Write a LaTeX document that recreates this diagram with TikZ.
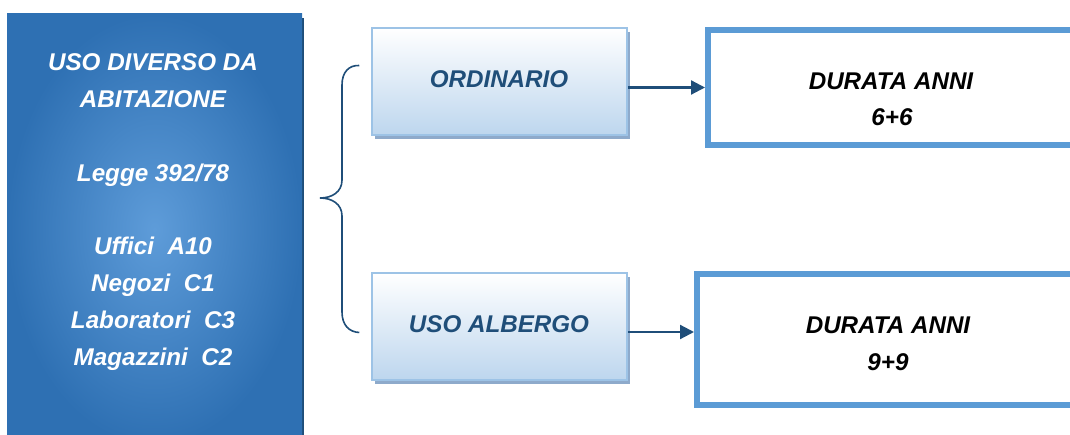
\documentclass[tikz,border=0pt]{standalone}
\usepackage{fontspec}
\setmainfont{Liberation Sans}
\usetikzlibrary{calc,arrows.meta,shadings}
\definecolor{deepblue}{HTML}{1F4E79}
\definecolor{midblue}{HTML}{2E70B3}
\definecolor{glowblue}{HTML}{5E9CD9}
\definecolor{paleblue}{HTML}{BDD6EE}
\definecolor{edgeblue}{HTML}{9DC3E6}
\definecolor{shadowblue}{HTML}{8EAACB}
\definecolor{frameblue}{HTML}{5B9BD5}
\tikzset{
  lbl/.style={font=\fontsize{24.2}{36.75}\selectfont\bfseries\itshape, inner sep=0pt, anchor=base},
  mainbox/.style={rectangle, inner sep=0pt, inner color=glowblue, outer color=midblue},
  kindbox/.style={rectangle, inner sep=0pt, draw=edgeblue, line width=1.5pt,
    top color=white, bottom color=paleblue},
  termbox/.style={rectangle, inner sep=0pt, draw=frameblue, line width=6pt, fill=white},
  link/.style={draw=deepblue, line width=2.2pt, -{Triangle[length=14pt,width=14pt]}},
  brace/.style={draw=deepblue, line width=1.6pt}
}
\begin{document}
\begin{tikzpicture}[x=1pt,y=-1pt]
\useasboundingbox (0,0) rectangle (1070,435);
\fill[white] (0,0) rectangle (1070,435);

% left category panel
\fill[deepblue] (10,18) rectangle (304,445);
\node[mainbox, minimum width=295pt, minimum height=431pt] (main) at (154.5,229.5) {};
\node[lbl, text=white] (t1) at (153,71) {USO DIVERSO DA};
\node[lbl, text=white] (t2) at (153,108) {ABITAZIONE};
\node[lbl, text=white] (t3) at (153,182) {Legge 392/78};
\node[lbl, text=white] (t4) at (153,255) {Uffici\ \ A10};
\node[lbl, text=white] (t5) at (153,292) {Negozi\ \ C1};
\node[lbl, text=white] (t6) at (153,328) {Laboratori\ \ C3};
\node[lbl, text=white] (t7) at (153,365) {Magazzini\ \ C2};

% contract types
\fill[shadowblue] (375,32) rectangle (630,139);
\node[kindbox, minimum width=255pt, minimum height=107pt] (ord) at (499.5,81.5) {};
\node[lbl, text=deepblue] (ordt) at (499,88) {ORDINARIO};
\fill[shadowblue] (375,277) rectangle (630,384);
\node[kindbox, minimum width=255pt, minimum height=107pt] (alb) at (499.5,326.5) {};
\node[lbl, text=deepblue] (albt) at (499,333) {USO ALBERGO};

% durations
\node[termbox, minimum width=390pt, minimum height=115pt] (dur1) at (903,87.5) {};
\node[lbl, text=black] (d1a) at (891,90) {DURATA ANNI};
\node[lbl, text=black] (d1b) at (892,126) {6+6};
\node[termbox, minimum width=400pt, minimum height=131pt] (dur2) at (897,339.5) {};
\node[lbl, text=black] (d2a) at (888,334) {DURATA ANNI};
\node[lbl, text=black] (d2b) at (888,370) {9+9};

% grouping brace
\coordinate (btop) at ($(ord.west)+(-12,-16)$);
\coordinate (bbot) at ($(alb.west)+(-12,6)$);
\coordinate (btip) at (320,198);
\path[brace] (btop) .. controls (349,65) and (342,72) .. (342,85)
  -- (342,180) .. controls (342,192) and (332,198) .. (btip)
  .. controls (332,198) and (342,204) .. (342,216)
  -- (342,312) .. controls (342,325) and (349,332) .. (bbot);

% connectors
\coordinate (albout) at ($(alb.east)+(0,5.5)$);
\coordinate (dur2in) at (dur2.west |- albout);
\path[link] (ord.east |- dur1.west) -- (dur1.west);
\path[link] (albout) -- (dur2in);
\end{tikzpicture}
\end{document}
